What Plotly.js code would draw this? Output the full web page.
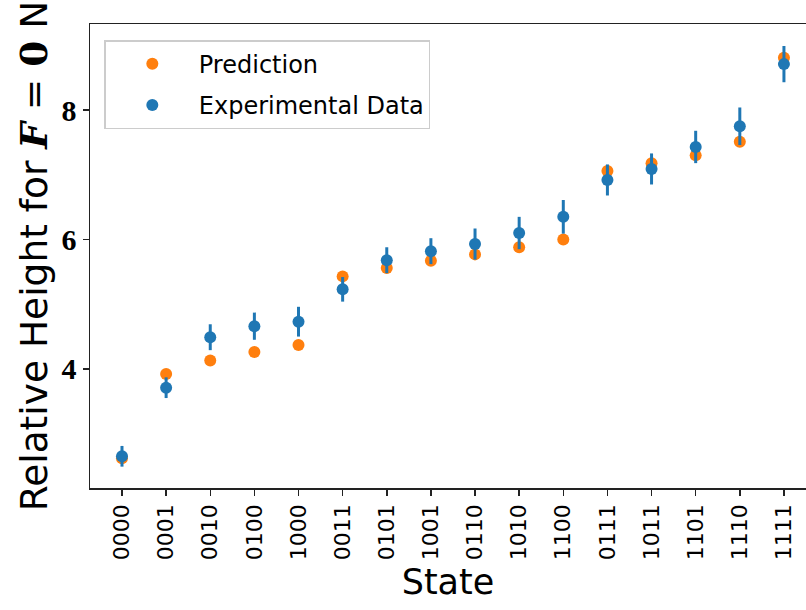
<!DOCTYPE html>
<html>
<head>
<meta charset="utf-8">
<script src="https://cdn.plot.ly/plotly-3.0.1.min.js"></script>
<style>html,body{margin:0;padding:0;background:#fff;}#chart{width:806px;height:610px;}</style>
</head>
<body>
<div id="chart"></div>
<script>
const states = ["0000","0001","0010","0100","1000","0011","0101","1001","0110","1010","1100","0111","1011","1101","1110","1111"];
const prediction = [2.62, 3.92, 4.13, 4.26, 4.37, 5.43, 5.56, 5.67, 5.77, 5.88, 6.00, 7.06, 7.18, 7.30, 7.51, 8.81];
const experimental = [2.65, 3.71, 4.49, 4.66, 4.73, 5.23, 5.68, 5.82, 5.93, 6.10, 6.35, 6.92, 7.09, 7.43, 7.75, 8.71];
const experimentalErr = [0.16, 0.16, 0.20, 0.21, 0.23, 0.19, 0.20, 0.20, 0.24, 0.25, 0.26, 0.24, 0.24, 0.25, 0.29, 0.28];

const traces = [
  {
    type: "scatter", mode: "markers", name: "Prediction",
    x: states, y: prediction, legendgroup: "a",
    marker: {color: "#ff7f0e", size: 12}
  },
  {
    type: "scatter", mode: "markers", name: "Experimental Data",
    x: states, y: experimental, legendgroup: "b",
    marker: {color: "#1f77b4", size: 12},
    error_y: {type: "data", array: experimentalErr, visible: true, color: "#1f77b4", thickness: 3, width: 0}
  }
];

const layout = {
  width: 806, height: 610,
  margin: {l: 90, r: 0, t: 24, b: 122},
  paper_bgcolor: "#fff", plot_bgcolor: "#fff",
  font: {family: "DejaVu Sans", color: "#000"},
  showlegend: true,
  legend: {
    x: 0.02, y: 0.965, xanchor: "left", yanchor: "top",
    bgcolor: "#fff", bordercolor: "#cccccc", borderwidth: 1.5,
    font: {family: "DejaVu Sans", size: 24, color: "#000"},
    tracegroupgap: 7, itemwidth: 83
  },
  xaxis: {
    type: "category",
    range: [-0.725, 15.5],
    showline: true, linecolor: "#222", linewidth: 1.5, mirror: true,
    showgrid: false, zeroline: false,
    ticks: "outside", ticklen: 6, tickwidth: 1.5, tickcolor: "#222",
    tickangle: -90,
    tickfont: {family: "DejaVu Sans", size: 22, color: "#000"},
    title: {text: "State", font: {family: "DejaVu Sans", size: 35, color: "#000"}, standoff: 10}
  },
  yaxis: {
    range: [2.16, 9.33],
    tickvals: [4, 6, 8],
    showline: true, linecolor: "#222", linewidth: 1.5, mirror: false,
    showgrid: false, zeroline: false,
    ticks: "outside", ticklen: 6, tickwidth: 1.5, tickcolor: "#222",
    tickfont: {family: "Liberation Serif", size: 30, color: "#000", weight: "bold"},
    title: {
      text: 'Relative Height for <span style="font-family:DejaVu Serif"><b><i>F</i></b> = <b>0</b></span> N',
      font: {family: "DejaVu Sans", size: 37.5, color: "#000"}, standoff: 2
    }
  }
};

Plotly.newPlot("chart", traces, layout, {displayModeBar: false, staticPlot: true});
</script>
</body>
</html>
